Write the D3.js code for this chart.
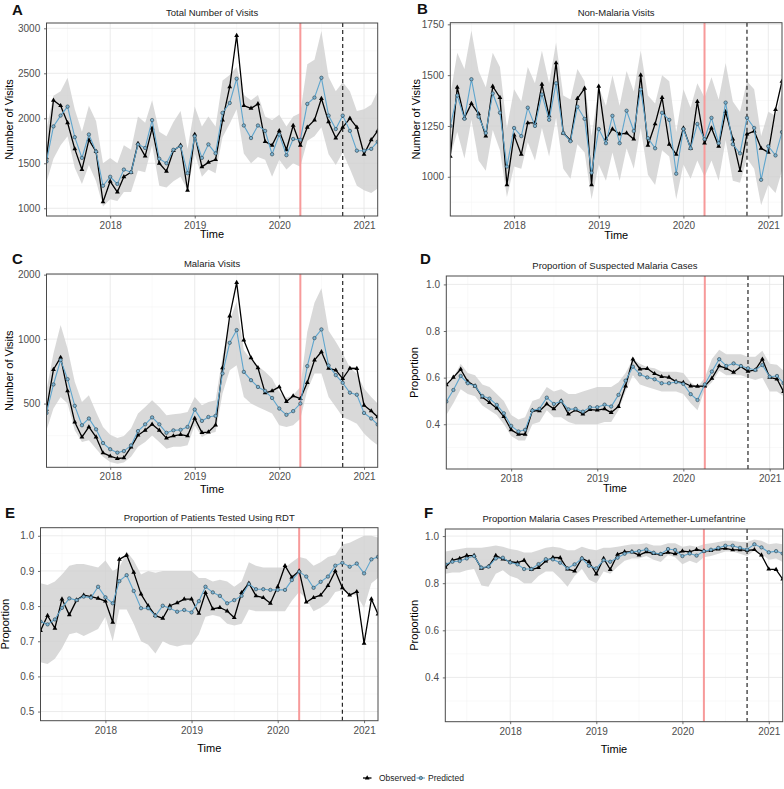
<!DOCTYPE html>
<html><head><meta charset="utf-8">
<script src="https://cdn.jsdelivr.net/npm/d3@7"></script>
<style>body{margin:0;background:#fff} svg{display:block;font-family:"Liberation Sans",Arial,Helvetica,sans-serif}</style>
</head><body><svg id="c" width="784" height="789"></svg>
<script>
const months = ["2017-04","2017-05","2017-06","2017-07","2017-08","2017-09","2017-10","2017-11","2017-12",
"2018-01","2018-02","2018-03","2018-04","2018-05","2018-06","2018-07","2018-08","2018-09","2018-10","2018-11","2018-12",
"2019-01","2019-02","2019-03","2019-04","2019-05","2019-06","2019-07","2019-08","2019-09","2019-10","2019-11","2019-12",
"2020-01","2020-02","2020-03","2020-04","2020-05","2020-06","2020-07","2020-08","2020-09","2020-10","2020-11","2020-12",
"2021-01","2021-02","2021-03"];
const yearTicks = ["2018-01","2019-01","2020-01","2021-01"];
const yearMinor = ["2017-07","2018-07","2019-07","2020-07"];
const interruptionStart = "2020-04";
const interruptionEnd = "2020-10";

// A: Total number of visits
const totalObs = [1560,2200,2140,1950,1660,1430,1760,1630,1070,1300,1180,1350,1400,1720,1580,1890,1500,1410,1640,1700,1200,1820,1460,1510,1540,1980,2350,2920,2140,2110,2160,1740,1700,1860,1650,1920,1700,1900,1980,2220,1960,1780,1900,2000,1900,1600,1760,1860];
const totalPred = [1520,1910,2030,2130,1790,1560,1820,1630,1250,1350,1270,1430,1400,1710,1670,1980,1550,1500,1650,1690,1390,1800,1560,1710,1610,2060,2170,2440,1920,1780,1920,1860,1600,1820,1590,1770,1760,2160,2230,2450,2030,1880,2030,1860,1640,1640,1660,1740];
const totalHi = [1880,2250,2300,2450,2100,1850,2140,1970,1500,1560,1500,1700,1650,2020,1950,2200,1850,1800,1960,2080,1660,2130,1910,2020,1910,2420,2480,2570,2260,2200,2260,2020,1980,2040,1910,2020,2060,2600,2650,2970,2460,2300,2400,2300,2080,2100,2150,2300];
const totalLo = [1290,1550,1700,1800,1450,1270,1480,1300,1020,1100,1080,1180,1180,1420,1400,1700,1250,1230,1300,1350,1200,1610,1350,1430,1390,1790,1940,2100,1610,1500,1570,1540,1350,1540,1430,1500,1460,1750,1800,1900,1600,1480,1620,1440,1250,1200,1170,1220];

// B: Non-malaria visits
const nonObs = [1100,1440,1290,1360,1310,1200,1445,1390,960,1205,1110,1265,1265,1455,1300,1560,1215,1180,1385,1435,960,1445,1185,1235,1210,1215,1185,1500,1155,1260,1390,1160,1110,1240,1140,1370,1165,1240,1150,1320,1185,1030,1210,1225,1140,1120,1330,1470];
const nonPred = [1250,1400,1285,1480,1295,1215,1410,1315,1050,1240,1200,1340,1250,1405,1280,1460,1215,1175,1345,1285,1020,1235,1165,1300,1165,1325,1225,1430,1190,1140,1315,1280,1015,1235,1140,1260,1185,1290,1165,1365,1160,1115,1290,1240,985,1150,1105,1220];
const nonHi = [1400,1610,1530,1720,1520,1440,1610,1540,1240,1430,1370,1540,1460,1620,1460,1660,1400,1380,1530,1470,1200,1440,1350,1500,1350,1520,1420,1620,1400,1360,1500,1470,1220,1430,1340,1460,1390,1490,1380,1560,1370,1320,1470,1430,1200,1320,1300,1420];
const nonLo = [1100,1220,1090,1280,1080,1030,1230,1130,900,1050,1040,1170,1080,1240,1100,1290,1040,990,1160,1120,890,1060,980,1120,980,1140,1040,1240,1010,960,1130,1100,890,1060,990,1080,1000,1080,980,1180,980,970,1090,1040,860,960,920,1030];

// C: Malaria visits (log scale)
const malObs = [470,721,821,573,410,349,389,349,294,284,277,279,313,356,375,400,375,345,353,358,353,427,366,368,397,734,1282,1836,989,818,734,561,573,598,511,543,527,627,798,873,731,716,654,731,729,491,462,433];
const malPred = [452,614,798,650,488,396,426,379,327,306,295,300,319,372,400,431,400,365,375,377,389,469,415,433,438,691,961,1102,703,643,598,573,531,474,443,461,500,748,1011,1110,753,679,625,562,550,452,426,399];
const malHi = [577,857,1163,904,632,509,547,457,389,358,345,353,382,449,482,518,482,441,446,449,457,537,491,509,518,827,1227,1495,888,803,748,704,655,567,533,547,598,1082,1479,1727,1094,972,857,734,691,588,537,500];
const malLo = [375,474,537,500,375,331,337,308,282,267,262,265,282,314,331,355,331,308,314,314,319,396,349,362,368,557,716,756,537,500,482,465,449,396,389,396,425,577,691,691,537,482,433,418,403,362,337,319];

// D: Proportion of suspected malaria cases
const suspObs = [0.569,0.601,0.636,0.583,0.564,0.516,0.493,0.469,0.433,0.376,0.357,0.357,0.459,0.457,0.487,0.466,0.500,0.443,0.461,0.444,0.463,0.461,0.466,0.450,0.476,0.564,0.679,0.637,0.639,0.617,0.604,0.601,0.583,0.579,0.564,0.563,0.564,0.597,0.650,0.640,0.623,0.647,0.627,0.633,0.679,0.601,0.594,0.540];
const suspPred = [0.497,0.547,0.607,0.576,0.564,0.521,0.510,0.483,0.447,0.393,0.369,0.376,0.459,0.466,0.514,0.487,0.499,0.464,0.466,0.454,0.473,0.473,0.484,0.476,0.526,0.587,0.647,0.614,0.601,0.593,0.576,0.576,0.581,0.573,0.529,0.504,0.571,0.626,0.679,0.650,0.661,0.650,0.640,0.633,0.654,0.604,0.607,0.576];
const suspHi = [0.575,0.60,0.66,0.62,0.61,0.57,0.56,0.53,0.50,0.44,0.42,0.43,0.50,0.51,0.56,0.54,0.55,0.53,0.53,0.54,0.55,0.56,0.56,0.56,0.58,0.62,0.68,0.66,0.645,0.64,0.625,0.625,0.625,0.62,0.58,0.56,0.60,0.68,0.72,0.70,0.70,0.70,0.69,0.69,0.715,0.66,0.655,0.63];
const suspLo = [0.44,0.49,0.55,0.53,0.52,0.48,0.46,0.44,0.40,0.35,0.33,0.33,0.40,0.41,0.46,0.43,0.43,0.41,0.40,0.40,0.40,0.40,0.41,0.41,0.46,0.54,0.61,0.57,0.56,0.55,0.54,0.54,0.54,0.53,0.49,0.46,0.55,0.58,0.63,0.61,0.61,0.61,0.60,0.59,0.60,0.54,0.54,0.52];

// E: Proportion tested using RDT
const rdtObs = [0.730,0.773,0.737,0.820,0.775,0.817,0.831,0.827,0.822,0.814,0.754,0.933,0.945,0.896,0.834,0.801,0.773,0.765,0.801,0.809,0.820,0.820,0.779,0.838,0.792,0.796,0.786,0.767,0.838,0.865,0.829,0.824,0.808,0.855,0.915,0.882,0.900,0.811,0.824,0.831,0.858,0.900,0.852,0.831,0.841,0.694,0.820,0.777];
const rdtPred = [0.756,0.748,0.762,0.795,0.822,0.817,0.827,0.824,0.855,0.825,0.808,0.871,0.888,0.843,0.794,0.794,0.772,0.801,0.794,0.784,0.789,0.782,0.814,0.855,0.839,0.829,0.808,0.817,0.829,0.863,0.848,0.848,0.846,0.846,0.846,0.874,0.898,0.884,0.852,0.869,0.884,0.915,0.923,0.912,0.921,0.893,0.933,0.940];
const rdtHi = [0.865,0.86,0.87,0.89,0.915,0.92,0.92,0.915,0.91,0.93,0.90,0.91,0.955,0.93,0.89,0.90,0.895,0.90,0.90,0.90,0.90,0.90,0.88,0.88,0.87,0.875,0.87,0.855,0.87,0.925,0.915,0.91,0.91,0.91,0.91,0.925,0.94,0.935,0.915,0.925,0.94,0.945,0.975,0.98,0.99,1.0,1.0,0.995];
const rdtLo = [0.64,0.635,0.65,0.68,0.72,0.725,0.715,0.725,0.735,0.77,0.70,0.79,0.79,0.75,0.70,0.69,0.665,0.70,0.69,0.685,0.69,0.69,0.72,0.77,0.775,0.77,0.75,0.745,0.75,0.79,0.785,0.785,0.785,0.785,0.785,0.815,0.84,0.82,0.785,0.795,0.81,0.84,0.845,0.835,0.83,0.795,0.865,0.88];

// F: Proportion prescribed artemether-lumefantrine
const alObs = [0.867,0.897,0.905,0.917,0.917,0.863,0.870,0.917,0.902,0.891,0.887,0.897,0.858,0.866,0.894,0.909,0.908,0.860,0.851,0.905,0.891,0.839,0.905,0.858,0.922,0.933,0.933,0.919,0.933,0.926,0.922,0.931,0.924,0.936,0.933,0.943,0.936,0.938,0.945,0.948,0.941,0.941,0.939,0.942,0.919,0.860,0.858,0.817];
const alPred = [0.880,0.891,0.894,0.905,0.915,0.866,0.870,0.905,0.908,0.888,0.880,0.860,0.860,0.881,0.902,0.901,0.887,0.863,0.880,0.905,0.874,0.863,0.898,0.891,0.908,0.925,0.933,0.936,0.943,0.929,0.924,0.945,0.941,0.915,0.926,0.917,0.936,0.942,0.950,0.959,0.959,0.950,0.943,0.965,0.952,0.931,0.936,0.926];
const alHi = [0.935,0.94,0.945,0.95,0.95,0.95,0.955,0.96,0.955,0.945,0.94,0.93,0.93,0.94,0.95,0.955,0.95,0.94,0.94,0.955,0.945,0.94,0.95,0.95,0.955,0.96,0.965,0.965,0.97,0.96,0.96,0.97,0.97,0.955,0.96,0.955,0.965,0.97,0.975,0.98,0.98,0.975,0.975,0.985,0.98,0.965,0.97,0.965];
const alLo = [0.84,0.845,0.845,0.855,0.86,0.79,0.785,0.84,0.855,0.83,0.82,0.80,0.80,0.83,0.85,0.85,0.82,0.785,0.83,0.86,0.815,0.80,0.85,0.84,0.87,0.895,0.905,0.905,0.915,0.90,0.89,0.92,0.91,0.88,0.895,0.885,0.91,0.915,0.925,0.935,0.935,0.925,0.915,0.94,0.925,0.90,0.905,0.89];

const parse = d3.timeParse("%Y-%m");
const dates = months.map(parse);
const svg = d3.select("#c");
const FONT = '"Liberation Sans",Arial,Helvetica,sans-serif';
const COL_PRED = "#5fa5cd";

const panels = [
 {letter:"A", title:"Total Number of Visits", yTitle:"Number of Visits", xTitle:"Time",
  obs:totalObs, pred:totalPred, lo:totalLo, hi:totalHi, domain:[914,3059], ticks:[1000,1500,2000,2500,3000], minor:[1250,1750,2250,2750], fmt:d3.format("d"),
  l:46.5, r:377.7, t:23, b:216, lx:12, ly:14.5, yTx:13, xTickPad:2.9, xTitleOff:22},
 {letter:"B", title:"Non-Malaria Visits", yTitle:"Number of Visits", xTitle:"Time",
  obs:nonObs, pred:nonPred, lo:nonLo, hi:nonHi, domain:[807,1758], ticks:[1000,1250,1500,1750], minor:[875,1125,1375,1625], fmt:d3.format("d"),
  l:450.3, r:782, t:22.7, b:216, lx:417, ly:14, yTx:420, xTickPad:2.9, xTitleOff:22.5},
 {letter:"C", title:"Malaria Visits", yTitle:"Number of Visits", xTitle:"Time", log:true,
  obs:malObs, pred:malPred, lo:malLo, hi:malHi, domain:[252,2014], ticks:[500,1000,2000], minor:[354,707,1414], fmt:d3.format("d"),
  l:46.5, r:377.7, t:274, b:467.3, lx:12, ly:264, yTx:13, xTickPad:2.9, xTitleOff:25.5},
 {letter:"D", title:"Proportion of Suspected Malaria Cases", yTitle:"Proportion", xTitle:"Time",
  obs:suspObs, pred:suspPred, lo:suspLo, hi:suspHi, domain:[0.208,1.036], ticks:[0.4,0.6,0.8,1.0], minor:[0.3,0.5,0.7,0.9], fmt:d3.format(".1f"),
  l:446.3, r:783.6, t:276, b:469, lx:420, ly:264, yTx:418, xTickPad:2.9, xTitleOff:23},
 {letter:"E", title:"Proportion of Patients Tested Using RDT", yTitle:"Proportion", xTitle:"Time",
  obs:rdtObs, pred:rdtPred, lo:rdtLo, hi:rdtHi, domain:[0.474,1.023], ticks:[0.5,0.6,0.7,0.8,0.9,1.0], minor:[0.55,0.65,0.75,0.85,0.95], fmt:d3.format(".1f"),
  l:40.5, r:378, t:527.7, b:720.7, lx:5, ly:518, yTx:8.5, xTickPad:3.9, xTitleOff:31.5},
 {letter:"F", title:"Proportion Malaria Cases Prescribed Artemether-Lumefantrine", yTitle:"Proportion", xTitle:"Timie",
  obs:alObs, pred:alPred, lo:alLo, hi:alHi, domain:[0.212,1.03], ticks:[0.4,0.6,0.8,1.0], minor:[0.3,0.5,0.7,0.9], fmt:d3.format(".1f"),
  l:445.3, r:782.7, t:529, b:721.7, lx:424, ly:518, yTx:418, xTickPad:3.9, xTitleOff:31.5}
];

const triangle = d3.symbol().type(d3.symbolTriangle).size(10);

panels.forEach(p => {
  const x = d3.scaleTime().domain([dates[0], dates[dates.length-1]]).range([p.l, p.r]);
  const y = (p.log ? d3.scaleLog() : d3.scaleLinear()).domain(p.domain).range([p.b, p.t]);
  const g = svg.append("g");
  const clipId = "clip" + p.letter;
  svg.append("clipPath").attr("id", clipId).append("rect").attr("x", p.l).attr("y", p.t).attr("width", p.r - p.l).attr("height", p.b - p.t);

  g.append("rect").attr("x", p.l).attr("y", p.t).attr("width", p.r - p.l).attr("height", p.b - p.t).attr("fill", "#fff");
  g.selectAll(".ymin").data(p.minor).join("line").attr("x1", p.l).attr("x2", p.r)
    .attr("y1", d => y(d)).attr("y2", d => y(d)).attr("stroke", "#f2f2f2").attr("stroke-width", 0.5);
  g.selectAll(".xmin").data(yearMinor.map(parse)).join("line").attr("y1", p.t).attr("y2", p.b)
    .attr("x1", d => x(d)).attr("x2", d => x(d)).attr("stroke", "#f2f2f2").attr("stroke-width", 0.5);
  g.selectAll(".ymaj").data(p.ticks).join("line").attr("x1", p.l).attr("x2", p.r)
    .attr("y1", d => y(d)).attr("y2", d => y(d)).attr("stroke", "#e6e6e6").attr("stroke-width", 0.8);
  g.selectAll(".xmaj").data(yearTicks.map(parse)).join("line").attr("y1", p.t).attr("y2", p.b)
    .attr("x1", d => x(d)).attr("x2", d => x(d)).attr("stroke", "#e6e6e6").attr("stroke-width", 0.8);

  const inner = g.append("g").attr("clip-path", `url(#${clipId})`);
  const area = d3.area().x((d, i) => x(dates[i])).y0((d, i) => y(p.lo[i])).y1((d, i) => y(p.hi[i]));
  inner.append("path").datum(p.lo).attr("d", area).attr("fill", "#cfcfcf").attr("fill-opacity", 0.8);

  const xs = x(parse(interruptionStart)), xe = x(parse(interruptionEnd));
  inner.append("line").attr("x1", xs).attr("x2", xs).attr("y1", p.t).attr("y2", p.b)
    .attr("stroke", "#f79a9a").attr("stroke-width", 2);
  inner.append("line").attr("x1", xe).attr("x2", xe).attr("y1", p.t).attr("y2", p.b)
    .attr("stroke", "#111").attr("stroke-width", 1.1).attr("stroke-dasharray", "4,3");

  const line = d3.line().x((d, i) => x(dates[i])).y(d => y(d));
  inner.append("path").datum(p.obs).attr("d", line).attr("fill", "none").attr("stroke", "#000").attr("stroke-width", 1.3).attr("stroke-linejoin", "round");
  inner.selectAll(".tri").data(p.obs).join("path").attr("d", triangle)
    .attr("transform", (d, i) => `translate(${x(dates[i])},${y(d)})`).attr("fill", "#000");
  inner.append("path").datum(p.pred).attr("d", line).attr("fill", "none").attr("stroke", COL_PRED).attr("stroke-width", 1.1);
  inner.selectAll(".cir").data(p.pred).join("circle").attr("cx", (d, i) => x(dates[i])).attr("cy", d => y(d))
    .attr("r", 1.7).attr("fill", "#7db4d3").attr("stroke", "#2e4652").attr("stroke-width", 0.65);

  g.append("rect").attr("x", p.l).attr("y", p.t).attr("width", p.r - p.l).attr("height", p.b - p.t)
    .attr("fill", "none").attr("stroke", "#4a4a4a").attr("stroke-width", 1);

  const ya = g.append("g").attr("transform", `translate(${p.l},0)`)
    .call(d3.axisLeft(y).tickValues(p.ticks).tickFormat(p.fmt).tickSize(2.5).tickPadding(3.8));
  const xa = g.append("g").attr("transform", `translate(0,${p.b})`)
    .call(d3.axisBottom(x).tickValues(yearTicks.map(parse)).tickFormat(d3.timeFormat("%Y")).tickSize(2.5).tickPadding(p.xTickPad));
  [ya, xa].forEach(a => {
    a.select(".domain").remove();
    a.selectAll(".tick line").attr("stroke", "#4a4a4a").attr("stroke-width", 0.8);
    a.selectAll(".tick text").attr("fill", "#4d4d4d").style("font-size", "10px").style("font-family", FONT);
  });

  g.append("text").attr("x", (p.l + p.r) / 2).attr("y", p.t - 7).attr("text-anchor", "middle")
    .style("font-size", "9.5px").attr("fill", "#1a1a1a").text(p.title);
  g.append("text").attr("x", (p.l + p.r) / 2).attr("y", p.b + p.xTitleOff).attr("text-anchor", "middle")
    .style("font-size", "11px").attr("fill", "#000").text(p.xTitle);
  g.append("text").attr("transform", `translate(${p.yTx},${(p.t + p.b) / 2}) rotate(-90)`).attr("text-anchor", "middle")
    .style("font-size", "11px").attr("fill", "#000").text(p.yTitle);
  g.append("text").attr("x", p.lx).attr("y", p.ly).style("font-size", "15px").style("font-weight", "bold")
    .attr("fill", "#111").text(p.letter);
});

// legend
const leg = svg.append("g").attr("transform", "translate(0,778)");
leg.append("line").attr("x1", 363).attr("x2", 371.5).attr("y1", 0).attr("y2", 0).attr("stroke", "#000").attr("stroke-width", 1.3);
leg.append("path").attr("d", triangle).attr("transform", "translate(367.2,0)").attr("fill", "#000");
leg.append("text").attr("x", 379).attr("y", 3).style("font-size", "8.5px").attr("fill", "#1a1a1a").text("Observed");
leg.append("line").attr("x1", 416.5).attr("x2", 425).attr("y1", 0).attr("y2", 0).attr("stroke", COL_PRED).attr("stroke-width", 1.1);
leg.append("circle").attr("cx", 420.8).attr("cy", 0).attr("r", 1.7).attr("fill", "#7db4d3").attr("stroke", "#2e4652").attr("stroke-width", 0.65);
leg.append("text").attr("x", 428).attr("y", 3).style("font-size", "8.5px").attr("fill", "#1a1a1a").text("Predicted");
</script></body></html>
